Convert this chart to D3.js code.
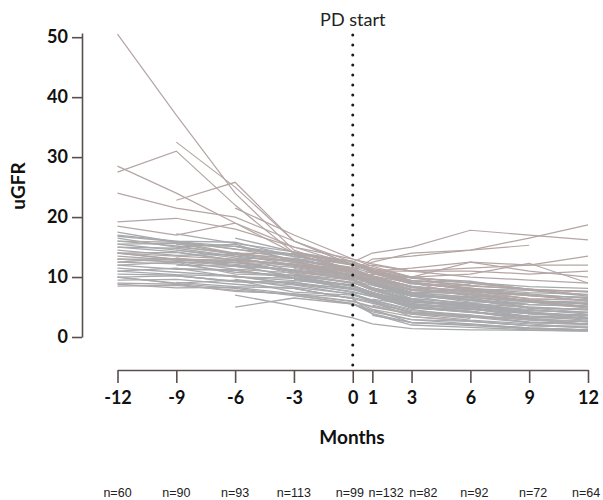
<!DOCTYPE html>
<html><head><meta charset="utf-8">
<script src="https://cdn.jsdelivr.net/npm/d3@7"></script>
<style>body{margin:0;background:#fff}svg{display:block}</style>
</head><body>
<script>
const months = [-12, -9, -6, -3, 0, 1, 3, 6, 9, 12];
const yTicks = [0, 10, 20, 30, 40, 50];
const nLabels = ["n=60","n=90","n=93","n=113","n=99","n=132","n=82","n=92","n=72","n=64"];
const nLabelMonths = [-12, -9, -6, -3, -0.15, 1.7, 3.6, 6.2, 9.2, 11.9];
const _ = null;
// uGFR per patient at each month (null = not measured)
const outlierSeries = [
  [50.5, 37, 24, 14.5, 11, 9.5, 8, 7, 6, 5],
  [27.5, 31, 22, 14, 11, 10.2, 9, 8, 7, 6],
  [_, 32.5, 25, 16, 12, 11.5, 10, 9, 8, 7],
  [28.5, 24, 19, 15, 12, 11, 9, 7, 6, 5],
  [24, 21.5, 20, 16, 12.5, 11.5, 10, 8, 7, 6],
  [_, 22.8, 25.8, 16, 12, 11.2, 9, 8, 7, 6],
  [19.2, 19.8, 18, 15, 13, 11.8, 10, 9, 8, 7],
  [_, 15, 14, 13, 12.5, 14, 15, 17.8, 17, 16.2],
  [_, _, _, 12, 11, 13, 13.5, 14.5, 16.5, 18.7],
  [_, _, 13, 12, 11, 12.5, 14, 14.5, 15.3, _],
  [14, 13.5, 13, 12, 10, 11, 11.5, 12.5, 12, 13.5],
  [_, _, _, _, 12, 11, 11, 11.5, 12, 12],
  [_, _, _, 11, 10, 10.5, 10, 12.5, 11, 10],
  [_, _, _, _, 9, 9.5, 10, 10.5, 12.3, 9],
  [13, 13, 12.5, 12, 11.5, 12, 11, 11, 10.5, 11],
  [18.5, 17, 19, 14, 12, 10.8, 9, 8.5, 8, 7.5],
  [_, _, 21.5, 17, 13, 12.2, 11, 10, 9.5, 9]
];
const mainSeries = [
  [16.5, 15, 15.5, 12.5, 11, 10, 8.5, 7.5, 6, 5],
  [15, 14.8, 13.5, 12.5, 10, 9, 7, 6.5, 5, 4.5],
  [14, 13, 12.8, 10.5, 9.5, 8, 6, 5.5, 4.2, 3],
  [12, 12.5, 10.5, 10.2, 8.5, 7.5, 5.5, 5, 3.2, 3.2],
  [10, 9, 9.5, 7.5, 7, 6, 4, 3.5, 2.5, 2.2],
  [9, 8.8, 7.6, 7.2, 6, 5, 3.8, 2.8, 2.2, 1.5],
  [17, 16, 15.8, 13.5, 12, 11, 9.2, 8, 7.8, 6.8],
  [13, 12.5, 12.4, 11, 10.2, 9.5, 7.5, 7.2, 6, 5.8],
  [11, 11.5, 10, 9.8, 8, 7, 5.2, 4.3, 3.1, 2.5],
  [15.5, 14.5, 13.5, 11, 9.8, 8.8, 7.2, 5.8, 5.8, 4.8],
  [16, 15.8, 14, 13.8, 11.2, 10.2, 8.2, 7.8, 6.3, 6.2],
  [14.5, 13.6, 13.8, 12, 10.8, 9.2, 7.3, 6.2, 4.8, 4.6],
  [12.5, 12.2, 10.8, 10.3, 9, 8.2, 6.8, 5.3, 4.6, 3.8],
  [8.8, 8.2, 8.3, 7.2, 6.6, 5.8, 4.2, 3.6, 2.8, 2.6],
  [10.5, 10.3, 9.2, 9.2, 7.4, 6.8, 5.1, 4.2, 3.5, 3.2],
  [13.5, 12.8, 12.7, 10.8, 9.7, 7.9, 6.2, 5.1, 4.2, 3.3],
  [_, 16, 14.6, 13.8, 11, 9.8, 8.3, 6.8, 6.2, 5.4],
  [_, 13.2, 11.8, 11.2, 9.4, 8.6, 7.1, 6.2, 4.8, 4.1],
  [_, 10.2, 9.3, 8.7, 7.1, 6.2, 4.6, 3.3, 3.1, 2.1],
  [_, 17.2, 15.6, 14.2, 12.2, 10.8, 9.2, 7.8, 7.2, 6.4],
  [_, 12, 11.8, 10.2, 9.1, 7.8, 6.3, 4.8, 4.1, 3.6],
  [_, 14.5, 13.2, 12.8, 10.1, 9, 7.2, 6.1, 5.4, _],
  [_, 11.4, 11.2, 9.8, 8.6, 7.4, 5.6, 4.6, _, _],
  [_, 9.1, 8.4, 8.1, 6.4, 5.6, 4.1, 3.1, _, _],
  [_, _, 15.2, 12.8, 11.2, 10.1, 8.4, 7.7, 6.4, _],
  [_, _, 13.1, 11.8, 10.3, 8.8, 6.4, 5.7, 4.4, 4.1],
  [_, _, 11.2, 9.8, 8.7, 7.2, 5.4, 4.7, 3.4, 3.2],
  [_, _, 9.6, 8.3, 7.2, 6.1, 4.4, 3.7, 2.4, 2.1],
  [_, _, 16.5, 14.2, 12.6, 11.2, 9.4, 8.7, _, _],
  [_, _, 12.1, 11.2, 9.6, 8.2, 5.9, 5.2, 3.9, _],
  [_, _, _, 13.2, 11.1, 9.8, 7.9, 7.2, 5.9, 5.1],
  [_, _, _, 11.4, 10.2, 8.7, 6.9, 6.2, 4.9, 4.6],
  [_, _, _, 9.6, 8.1, 6.8, 4.9, 4.2, 2.9, 2.6],
  [_, _, _, 7, 5.5, 4.2, 2.9, 2.2, 1.5, 1.2],
  [_, _, _, 12.6, 10.6, 9.3, 7.4, 6.7, 5.4, _],
  [_, _, _, 14.1, 12.1, 10.8, 8.9, 8.2, 6.9, 6.1],
  [_, _, _, 8.1, 6.4, 3.8, 2, 1.6, 1.2, 1],
  [_, _, _, 10.4, 9.1, 7.8, 5.9, 5.2, 3.9, 3.6],
  [_, _, _, _, 9.2, 7.8, 5.8, 5.3, 3.9, 3.1],
  [_, _, _, _, 10.1, 8.8, 6.8, 6.3, 5.4, 5.1],
  [_, _, _, _, 8.1, 6.8, 4.8, 4.3, 2.9, 2.1],
  [_, _, _, _, 7.2, 5.8, 3.4, 2.7, 1.9, 1.6],
  [_, _, _, _, 11.2, 9.8, 7.8, 7.3, 5.9, 5.6],
  [_, _, _, _, 6.1, 4.6, 2.4, 2.1, 1.4, 1.2],
  [_, _, _, _, _, 7.3, 5.8, 5.3, 3.9, 3.6],
  [_, _, _, _, _, 9.2, 7.8, 7.3, 6.4, 6.1],
  [_, _, _, _, _, 5.3, 3.8, 3.3, 2.4, 2.1],
  [_, _, _, _, _, 3.6, 2.4, 1.9, 1.4, 1.2],
  [_, _, _, _, _, 11.2, 9.8, 9.3, 7.9, 7.6],
  [_, _, _, _, _, 6.3, 5.3, 4.8, 3.4, _],
  [15, 14.2, 12.8, 12.1, 10.1, 9.1, 6.8, _, _, _],
  [11.5, 10.8, 10.2, 8.8, 7.6, 6.7, _, _, _, _],
  [13, 12.6, 11.3, 10.7, 8.9, _, _, _, _, _],
  [9.5, 9.6, 8.8, 8.1, 6.4, _, _, _, _, _],
  [16, 15.2, 13.8, 12.7, _, _, _, _, _, _],
  [12, 11.3, 11.1, 9.8, _, _, _, _, _, _],
  [10, 10.2, 9.3, 9.1, 7.9, 7.1, 5.4, 4.6, 3.9, 3.6],
  [14, 14.1, 12.8, 12.2, 10.4, 9.6, 7.8, 7.1, _, _],
  [17.5, 15.8, 14.7, 12.9, 11.6, 10.6, 8.8, _, _, _],
  [8.5, 8.6, 7.8, 7.1, 5.9, 5.1, 3.9, 3.6, 2.9, 2.6],
  [_, _, 5, 6.5, 5.5, 3.9, 2.4, 2.1, 1.5, 1.2],
  [_, _, 7, 5.2, 3.2, 2.2, 1.4, 1.2, 1.1, 1],
  [15.5, 15.6, 13.8, 13.1, 10.9, 10.1, 7.9, 7.6, 6.9, 6.6],
  [11, 10.4, 10.1, 9.4, 8.6, 7.4, 5.9, 5.1, 4.4, 4.1],
  [_, 15.4, 15.1, 13.8, 12.6, 11.2, 9.4, 8.6, 7.9, 7.6],
  [_, 12.6, 11.9, 11.1, 10.4, 9.1, 7.4, 6.6, 5.9, 5.6],
  [_, _, 14.1, 12.4, 10.6, 9.6, 7.9, 7.1, 5.9, 5.1],
  [_, _, 10.1, 8.9, 8.1, 7.1, 4.9, 4.1, 3.4, 2.8],
  [_, _, _, 13.6, 11.4, 10.2, 8.4, 7.6, 6.9, 6.6],
  [_, _, _, 10.1, 8.4, 7.1, 4.9, 4.1, 3.4, 3.1],
  [_, _, _, _, 9.6, 8.2, 6.4, 5.6, 4.9, 4.6],
  [_, _, _, _, 12.4, 10.8, 8.9, 8.1, 7.4, 7.1],
  [_, _, _, _, _, 8.2, 6.9, 6.1, 5.4, 5.1],
  [_, _, _, _, _, 4.6, 3.4, 2.6, 1.9, 1.6],
  [16.8, 15.9, 15.1, 13.4, 12.1, 11.1, 9.4, 9.1, 8.4, 8.1],
  [12.5, 13.1, 12.4, 11.6, 10.1, 8.8, 6.9, 6.6, 5.9, 5.6],
  [14, 12.9, 12.1, 9.9, 8.1, 6.9, 4.9, 4.6, 3.9, 3.6],
  [10, 8.9, 8.1, 6.9, 5.6, 4.4, 2.9, 2.6, 1.9, 1.8]
];

const W = 603, H = 500;
const svg = d3.select("body").append("svg").attr("width", W).attr("height", H);
const x = d3.scaleLinear().domain([-12, 12]).range([117.5, 588]);
const y = d3.scaleLinear().domain([0, 50.7]).range([337, 33]);
const FONT = "Lato, 'Open Sans', sans-serif";
const axisColor = "#5a4f4f";

const line = d3.line()
  .defined(d => d[1] !== null)
  .x(d => x(d[0])).y(d => y(d[1]));

const g = svg.append("g");
g.selectAll("path.main").data(mainSeries).join("path")
  .attr("class", "main")
  .attr("d", s => line(s.map((v, i) => [months[i], v])))
  .attr("fill", "none").attr("stroke", (d, i) => i % 7 === 3 ? "#b3a9a9" : "#a8a9ac")
  .attr("stroke-width", 1.3);
g.selectAll("path.out").data(outlierSeries).join("path")
  .attr("class", "out")
  .attr("d", s => line(s.map((v, i) => [months[i], v])))
  .attr("fill", "none").attr("stroke", "#b4a6a4")
  .attr("stroke-width", 1.2);

// Y axis
const yAxis = svg.append("g").attr("transform", "translate(82,0)")
  .call(d3.axisLeft(y).tickValues(yTicks).tickSize(10).tickPadding(4).tickSizeOuter(0)
    .tickFormat(d => String(d)));
yAxis.select(".domain").attr("stroke", axisColor).attr("stroke-width", 1.6);
yAxis.selectAll(".tick line").attr("stroke", axisColor).attr("stroke-width", 1.6);
yAxis.selectAll(".tick text").attr("font-family", FONT).attr("font-weight", "bold")
  .attr("font-size", 18).attr("fill", "#111");

// X axis
const xAxis = svg.append("g").attr("transform", "translate(0,370)")
  .call(d3.axisBottom(x).tickValues(months).tickSize(13).tickPadding(8).tickSizeOuter(0)
    .tickFormat(d => String(d)));
xAxis.select(".domain").attr("stroke", axisColor).attr("stroke-width", 1.6);
xAxis.selectAll(".tick line").attr("stroke", axisColor).attr("stroke-width", 1.6);
xAxis.selectAll(".tick text").attr("font-family", FONT).attr("font-weight", "bold")
  .attr("font-size", 18).attr("fill", "#111");

// PD start dotted line
svg.append("line")
  .attr("x1", x(0)).attr("x2", x(0)).attr("y1", 35).attr("y2", 370)
  .attr("stroke", "#1a1a1a").attr("stroke-width", 3)
  .attr("stroke-linecap", "round").attr("stroke-dasharray", "0,10");
svg.append("text").attr("x", x(0)).attr("y", 26).attr("text-anchor", "middle")
  .attr("font-family", FONT).attr("font-size", 18).attr("fill", "#222").text("PD start");

// Axis titles
svg.append("text").attr("transform", "translate(25,186) rotate(-90)")
  .attr("text-anchor", "middle").attr("font-family", FONT).attr("font-weight", "bold")
  .attr("font-size", 19).attr("fill", "#111").text("uGFR");
svg.append("text").attr("x", 352).attr("y", 444).attr("text-anchor", "middle")
  .attr("font-family", FONT).attr("font-weight", "bold")
  .attr("font-size", 19).attr("fill", "#111").text("Months");

// n labels
svg.append("g").selectAll("text").data(nLabels).join("text")
  .attr("x", (d, i) => x(nLabelMonths[i])).attr("y", 497)
  .attr("text-anchor", "middle")
  .attr("font-family", "'Liberation Sans', Arial, sans-serif")
  .attr("font-size", 12.5).attr("fill", "#222").text(d => d);
</script>
</body></html>
